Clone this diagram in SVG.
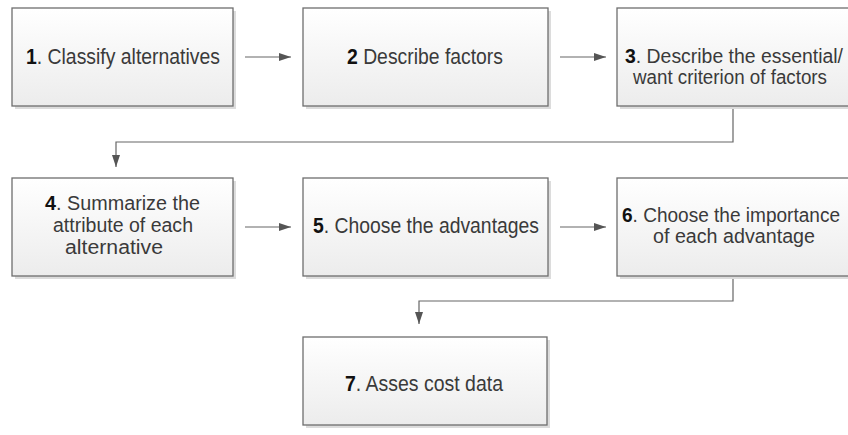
<svg xmlns="http://www.w3.org/2000/svg" width="848" height="435" viewBox="0 0 848 435">
<defs>
<linearGradient id="g" x1="0" y1="0" x2="0" y2="1">
<stop offset="0" stop-color="#ffffff"/>
<stop offset="1" stop-color="#ececec"/>
</linearGradient>
<marker id="ah" viewBox="0 0 12 8" refX="12" refY="4" markerWidth="12" markerHeight="8" markerUnits="userSpaceOnUse" orient="auto">
<path d="M0,0 L12,4 L0,8 Z" fill="#555"/>
</marker>
</defs>
<style>
.sh{fill:#dcdcdc}
.bx{fill:url(#g);stroke:#6e6e6e;stroke-width:1.3}
.t{font-family:"Liberation Sans",Arial,sans-serif;font-size:21.5px;fill:#3a3a3a}
.s{font-size:20px}
.n{fill:#111;font-weight:bold}
.c{fill:none;stroke:#666;stroke-width:1.2}
</style>
<g id="connectors">
<path class="c" d="M245,57 H291" marker-end="url(#ah)"/>
<path class="c" d="M560,57 H606" marker-end="url(#ah)"/>
<path class="c" d="M733,106 V142 H116 V167" marker-end="url(#ah)"/>
<path class="c" d="M245,227 H291" marker-end="url(#ah)"/>
<path class="c" d="M560,227 H606" marker-end="url(#ah)"/>
<path class="c" d="M733,276 V301 H419 V324" marker-end="url(#ah)"/>
</g>
<g id="n1">
<rect class="sh" x="15" y="11" width="221" height="98"/>
<rect class="bx" x="12" y="8" width="221" height="98"/>
<text class="t" x="26" y="64" textLength="194" lengthAdjust="spacingAndGlyphs"><tspan class="n">1</tspan>. Classify alternatives</text>
</g>
<g id="n2">
<rect class="sh" x="306" y="11" width="245" height="98"/>
<rect class="bx" x="303" y="8" width="245" height="98"/>
<text class="t" x="347" y="64" textLength="156" lengthAdjust="spacingAndGlyphs"><tspan class="n">2</tspan> Describe factors</text>
</g>
<g id="n3">
<rect class="sh" x="620" y="11" width="245" height="98"/>
<rect class="bx" x="617" y="8" width="245" height="98"/>
<text class="t s" x="625" y="63" textLength="218" lengthAdjust="spacingAndGlyphs"><tspan class="n">3</tspan>. Describe the essential/</text>
<text class="t s" x="633" y="84" textLength="194" lengthAdjust="spacingAndGlyphs">want criterion of factors</text>
</g>
<g id="n4">
<rect class="sh" x="15" y="181" width="221" height="98"/>
<rect class="bx" x="12" y="178" width="221" height="98"/>
<text class="t s" x="45" y="210" textLength="155" lengthAdjust="spacingAndGlyphs"><tspan class="n">4</tspan>. Summarize the</text>
<text class="t s" x="53" y="232" textLength="140" lengthAdjust="spacingAndGlyphs">attribute of each</text>
<text class="t s" x="65" y="254" textLength="98" lengthAdjust="spacingAndGlyphs">alternative</text>
</g>
<g id="n5">
<rect class="sh" x="306" y="181" width="245" height="98"/>
<rect class="bx" x="303" y="178" width="245" height="98"/>
<text class="t" x="313" y="233" textLength="226" lengthAdjust="spacingAndGlyphs"><tspan class="n">5</tspan>. Choose the advantages</text>
</g>
<g id="n6">
<rect class="sh" x="620" y="181" width="245" height="98"/>
<rect class="bx" x="617" y="178" width="245" height="98"/>
<text class="t s" x="622" y="222" textLength="218" lengthAdjust="spacingAndGlyphs"><tspan class="n">6</tspan>. Choose the importance</text>
<text class="t s" x="653" y="243" textLength="162" lengthAdjust="spacingAndGlyphs">of each advantage</text>
</g>
<g id="n7">
<rect class="sh" x="306" y="340" width="244" height="88"/>
<rect class="bx" x="303" y="337" width="244" height="88"/>
<text class="t" x="345" y="391" textLength="158" lengthAdjust="spacingAndGlyphs"><tspan class="n">7</tspan>. Asses cost data</text>
</g>
</svg>
